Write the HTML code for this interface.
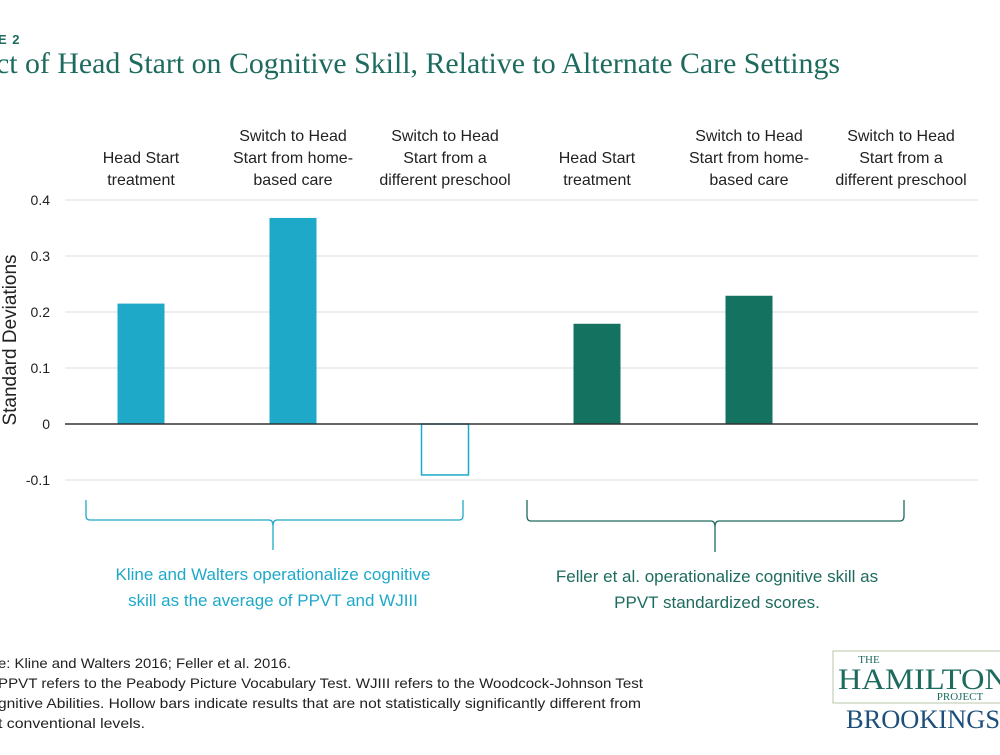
<!DOCTYPE html>
<html><head><meta charset="utf-8"><style>
body{margin:0;background:#fff;}
svg text{font-family:"Liberation Sans",sans-serif;}
</style></head><body>
<svg width="1000" height="750" viewBox="0 0 1000 750" xmlns="http://www.w3.org/2000/svg">
<text x="-2" y="44" font-size="13" font-weight="bold" fill="#1d6b5e" letter-spacing="1">E 2</text>
<text x="-4" y="73" font-size="30" fill="#1d6b5e" textLength="844" lengthAdjust="spacingAndGlyphs" style="font-family:'Liberation Serif',serif">ct of Head Start on Cognitive Skill, Relative to Alternate Care Settings</text>
<g id="grid"></g>
<g id="ylab"></g>
<text transform="translate(16,340) rotate(-90)" text-anchor="middle" font-size="19" fill="#222">Standard Deviations</text>
<g id="cats"></g>
<g id="bars"></g>
<line x1="65" x2="978" y1="424" y2="424" stroke="#333" stroke-width="1.5"/>
<path d="M86,500 V516 Q86,520 90,520 H269 Q273,520 273,526 V550 M273,526 Q273,520 277,520 H459 Q463,520 463,516 V500" fill="none" stroke="#1fa9c9" stroke-width="1.3"/>
<path d="M527,500 V516 Q527,521 531,521 H711 Q715,521 715,527 V552 M715,527 Q715,521 719,521 H900 Q904,521 904,516 V500" fill="none" stroke="#1d6b5e" stroke-width="1.3"/>
<text x="273" y="580" text-anchor="middle" font-size="17" fill="#1fa9c9"><tspan x="273">Kline and Walters operationalize cognitive</tspan><tspan x="273" dy="26">skill as the average of PPVT and WJIII</tspan></text>
<text x="717" y="582" text-anchor="middle" font-size="17" fill="#1d6b5e"><tspan x="717">Feller et al. operationalize cognitive skill as</tspan><tspan x="717" dy="26">PPVT standardized scores.</tspan></text>
<g font-size="14" fill="#222">
<text x="-2" y="668" textLength="293" lengthAdjust="spacingAndGlyphs">e: Kline and Walters 2016; Feller et al. 2016.</text>
<text x="-2" y="688" textLength="645" lengthAdjust="spacingAndGlyphs">PPVT refers to the Peabody Picture Vocabulary Test. WJIII refers to the Woodcock-Johnson Test</text>
<text x="-2" y="708" textLength="643" lengthAdjust="spacingAndGlyphs">gnitive Abilities. Hollow bars indicate results that are not statistically significantly different from</text>
<text x="-2" y="728" textLength="147" lengthAdjust="spacingAndGlyphs">t conventional levels.</text>
</g>
<g>
<rect x="833" y="651" width="170" height="52" fill="none" stroke="#b8c4a8" stroke-width="1"/>
<text x="869" y="663" text-anchor="middle" font-size="11" fill="#1d6b5e" style="font-family:'Liberation Serif',serif">THE</text>
<text x="838" y="689" font-size="30" fill="#1d6b5e" textLength="170" lengthAdjust="spacingAndGlyphs" style="font-family:'Liberation Serif',serif">HAMILTON</text>
<text x="960" y="700" text-anchor="middle" font-size="11" fill="#1d6b5e" style="font-family:'Liberation Serif',serif">PROJECT</text>
<text x="846" y="728" font-size="26" fill="#1d4f7a" textLength="154" lengthAdjust="spacingAndGlyphs" style="font-family:'Liberation Serif',serif">BROOKINGS</text>
</g>
</svg>
<script>
const categories=[["Head Start","treatment"],["Switch to Head","Start from home-","based care"],["Switch to Head","Start from a","different preschool"],["Head Start","treatment"],["Switch to Head","Start from home-","based care"],["Switch to Head","Start from a","different preschool"]];
const values=[0.215,0.368,-0.091,0.179,0.229,0];
const significant=[true,true,false,true,true,false];
const groupColors=["#1fa9c9","#1fa9c9","#1fa9c9","#137360","#137360","#137360"];
const ticks=[0.4,0.3,0.2,0.1,0,-0.1];
const tickLabels=["0.4","0.3","0.2","0.1","0","-0.1"];
const NS="http://www.w3.org/2000/svg";
const y=v=>424-v*560;
const x=i=>141+i*152;
const bw=47;
function mk(t,a,p){const e=document.createElementNS(NS,t);for(const k in a)e.setAttribute(k,a[k]);p.appendChild(e);return e;}
const grid=document.getElementById('grid'),yl=document.getElementById('ylab'),cats=document.getElementById('cats'),bars=document.getElementById('bars');
ticks.forEach((t,i)=>{
 if(t!==0){const l=mk('line',{x1:65,x2:978,y1:y(t),y2:y(t),stroke:'#dddddd','stroke-width':1},grid);
 
 }
 const tx=mk('text',{x:50,y:y(t)+5,'text-anchor':'end','font-size':14,fill:'#222'},yl);tx.textContent=tickLabels[i];
 
 
});
categories.forEach((c,i)=>{
 const tx=mk('text',{'text-anchor':'middle','font-size':16,fill:'#222'},cats);
 
 
 const start=185-(c.length-1)*22;
 c.forEach((line,j)=>{const s=mk('tspan',{x:x(i),y:start+j*22},tx);s.textContent=line;});
});
values.forEach((v,i)=>{
 if(v===0)return;
 const top=Math.min(y(v),y(0)),h=Math.abs(y(v)-y(0));
 const r=mk('rect',{x:x(i)-bw/2,y:top,width:bw,height:h},bars);
 
 
 if(significant[i])r.setAttribute('fill',groupColors[i]);
 else{r.setAttribute('fill','none');r.setAttribute('stroke',groupColors[i]);r.setAttribute('stroke-width',1.5);}
});
</script>
</body></html>
